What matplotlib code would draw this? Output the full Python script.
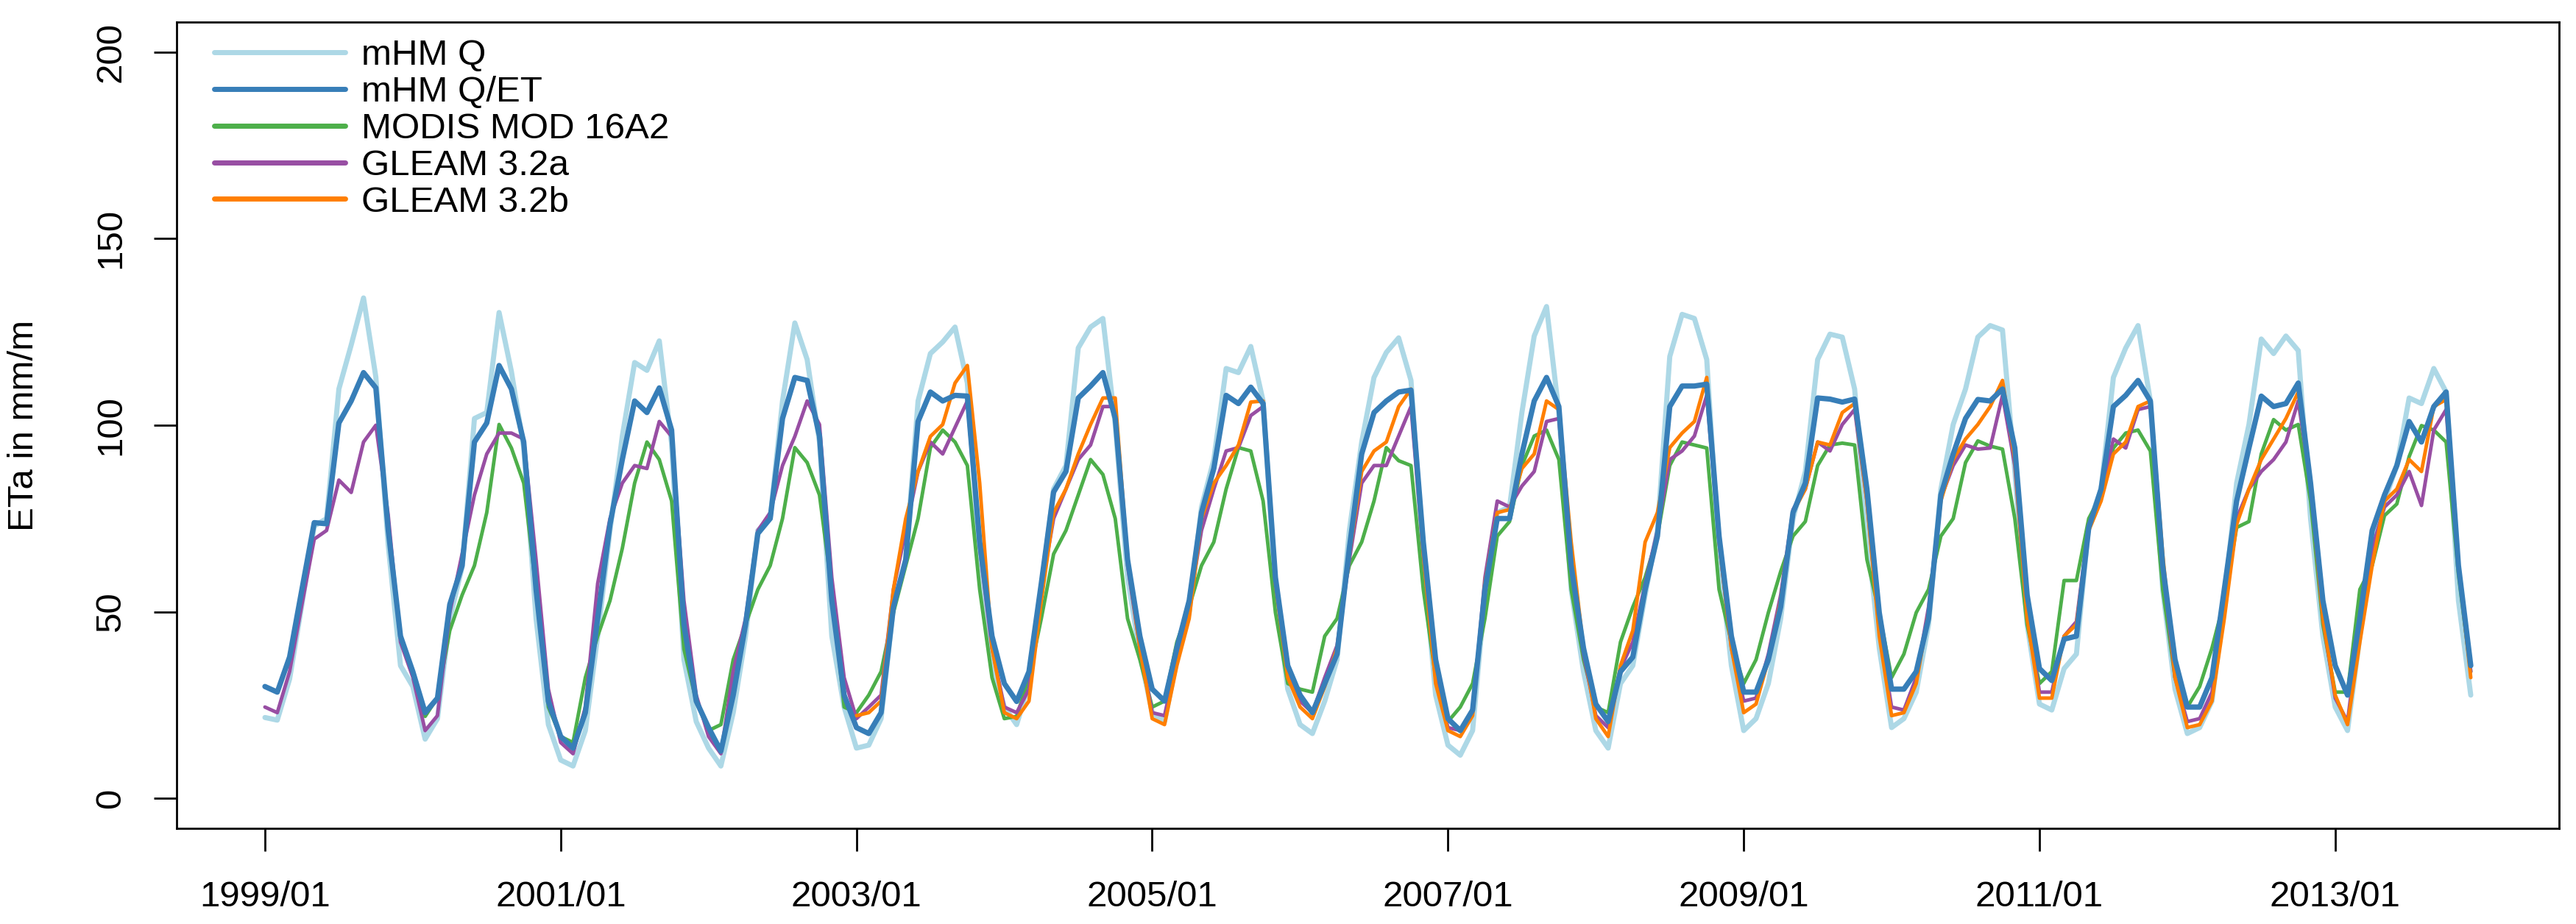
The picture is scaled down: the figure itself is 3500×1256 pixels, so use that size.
import numpy as np
import pandas as pd
import matplotlib
matplotlib.use("Agg")
import matplotlib.pyplot as plt

# Monthly ETa in mm/month
start_all = "1999-01"
start_modis = "2000-01"
start_gleam_b = "2003-01"
n_months = 180

mhm_q = [
    21.7, 21.0, 32.0, 52.0, 73.0, 75.0, 109.7, 121.5, 134.1, 112.9, 68.0, 35.6,
    30.0, 15.9, 21.4, 48.2, 62.0, 101.8, 103.4, 130.2, 114.4, 94.0, 48.2, 19.8,
    10.3, 8.7, 18.2, 43.5, 71.8, 97.1, 116.8, 114.7, 122.6, 95.0, 37.2, 20.6,
    13.5, 8.7, 23.0, 43.5, 71.8, 75.0, 106.5, 127.4, 117.6, 95.5, 43.5, 24.5,
    13.5, 14.3, 21.4, 51.3, 64.0, 106.5, 119.2, 122.3, 126.3, 111.3, 64.0, 35.6,
    24.5, 19.8, 30.8, 56.0, 82.9, 89.2, 120.7, 126.3, 128.6, 100.2, 59.2, 38.7,
    23.0, 20.6, 37.2, 49.8, 78.1, 90.8, 115.2, 114.1, 121.1, 106.5, 56.0, 29.3,
    19.8, 17.4, 26.1, 37.2, 71.8, 95.5, 112.8, 119.5, 123.4, 112.0, 64.0, 27.7,
    14.3, 11.6, 18.2, 54.5, 76.6, 78.1, 103.4, 123.9, 131.8, 103.4, 56.0, 34.0,
    18.2, 13.5, 30.8, 35.6, 54.5, 71.8, 118.4, 129.7, 128.6, 117.6, 65.5, 35.6,
    18.2, 21.4, 30.8, 48.2, 75.0, 87.6, 117.6, 124.4, 123.6, 109.7, 71.8, 40.3,
    19.0, 21.4, 28.5, 46.6, 82.9, 100.2, 109.7, 123.6, 126.7, 125.5, 87.6, 46.6,
    25.3, 23.7, 34.8, 38.7, 73.4, 82.9, 112.8, 120.7, 126.7, 106.5, 56.0, 29.3,
    17.4, 19.0, 26.1, 53.0, 84.5, 100.2, 123.1, 119.2, 123.9, 120.0, 75.0, 43.5,
    24.5, 18.2, 43.5, 68.7, 79.7, 89.2, 107.3, 105.8, 115.2, 108.9, 53.0, 27.7,
]

mhm_qet = [
    30.0, 28.5, 37.9, 56.0, 73.9, 73.6, 100.6, 106.5, 114.1, 110.0, 72.0, 43.5,
    34.0, 23.0, 26.9, 52.0, 62.4, 95.5, 100.6, 116.0, 109.7, 95.5, 56.0, 26.0,
    16.6, 13.5, 23.0, 48.2, 73.4, 90.8, 106.5, 103.4, 110.0, 98.7, 46.6, 26.1,
    19.0, 12.7, 27.7, 46.6, 71.0, 75.0, 101.8, 112.8, 112.0, 97.1, 53.0, 27.7,
    19.0, 17.4, 23.0, 51.3, 64.0, 101.0, 108.9, 106.5, 108.0, 107.8, 68.7, 43.5,
    30.8, 26.0, 34.0, 57.6, 82.1, 87.6, 107.3, 110.5, 114.1, 101.8, 64.0, 43.5,
    29.3, 26.1, 40.3, 53.0, 76.6, 88.4, 108.0, 105.8, 110.2, 105.8, 59.2, 35.6,
    27.7, 23.0, 30.8, 38.7, 67.1, 92.3, 103.4, 106.5, 108.9, 109.4, 68.7, 37.2,
    21.4, 18.2, 23.7, 56.0, 75.0, 75.0, 92.3, 106.5, 112.8, 105.0, 62.4, 40.3,
    25.3, 20.6, 34.0, 37.9, 56.0, 70.3, 105.0, 110.5, 110.5, 111.0, 70.3, 43.5,
    28.5, 28.5, 37.2, 51.3, 76.6, 84.5, 107.3, 107.0, 106.2, 107.0, 82.9, 49.8,
    29.3, 29.3, 34.0, 48.2, 81.3, 92.3, 101.8, 106.9, 106.5, 109.7, 93.9, 54.5,
    34.8, 31.6, 42.7, 43.5, 72.6, 82.9, 105.0, 108.0, 112.0, 106.5, 62.4, 37.2,
    24.5, 24.5, 32.4, 56.0, 79.7, 93.9, 107.8, 105.0, 105.8, 111.3, 84.5, 53.0,
    35.6, 27.7, 48.2, 71.8, 81.3, 89.2, 101.0, 95.5, 105.0, 108.9, 62.4, 35.6,
]

modis = [
    33.0, 22.0, 27.0, 45.0, 54.5, 62.4, 76.6, 100.2, 93.9, 84.5, 56.0, 24.5,
    16.6, 15.0, 32.4, 43.5, 53.0, 67.0, 84.5, 95.5, 90.8, 79.7, 40.0, 26.0,
    18.2, 19.8, 37.2, 46.6, 56.0, 62.4, 75.0, 94.0, 90.0, 81.3, 56.0, 24.5,
    23.0, 27.7, 34.0, 49.8, 62.4, 75.0, 94.0, 98.7, 95.5, 89.2, 56.0, 32.4,
    21.4, 22.0, 32.4, 48.2, 65.5, 71.8, 81.3, 90.8, 86.8, 75.0, 48.2, 37.2,
    24.5, 26.1, 41.9, 51.3, 62.4, 68.7, 82.9, 94.0, 93.1, 79.7, 49.8, 30.8,
    29.3, 28.5, 43.5, 48.2, 62.4, 68.7, 79.7, 94.0, 90.5, 89.2, 56.0, 32.4,
    20.6, 24.5, 30.8, 48.2, 70.3, 74.2, 89.2, 97.1, 98.7, 90.8, 56.0, 37.2,
    24.5, 23.0, 41.9, 51.3, 59.2, 70.3, 89.2, 95.5, 94.7, 93.9, 56.0, 41.9,
    30.8, 37.2, 49.8, 60.8, 70.3, 74.2, 89.2, 94.7, 95.2, 94.7, 64.0, 49.8,
    32.4, 38.7, 49.8, 56.0, 70.3, 75.0, 90.0, 95.8, 94.4, 93.6, 75.0, 46.6,
    30.8, 34.0, 58.4, 58.4, 75.0, 81.3, 93.9, 97.9, 98.7, 93.1, 56.0, 32.4,
    24.5, 30.0, 40.3, 53.0, 72.6, 74.2, 92.3, 101.5, 98.7, 100.2, 79.7, 46.6,
    28.5, 28.5, 56.0, 62.4, 75.8, 78.9, 91.6, 99.9, 98.7, 95.5, 60.0, 34.0,
]

gleam_a = [
    24.5, 23.0, 34.0, 52.0, 69.5, 71.8, 85.3, 82.0, 95.5, 100.0, 76.0, 41.9,
    32.5, 18.2, 22.2, 49.8, 65.5, 81.3, 92.3, 97.9, 97.9, 96.3, 64.0, 29.3,
    15.0, 12.0, 24.5, 57.6, 75.0, 84.5, 89.2, 88.4, 101.0, 97.0, 53.0, 27.7,
    16.6, 12.0, 34.0, 48.2, 71.8, 76.6, 89.2, 97.0, 106.5, 100.2, 59.2, 32.4,
    21.4, 24.5, 27.7, 56.0, 71.8, 87.6, 95.5, 92.3, 99.4, 106.5, 67.0, 40.3,
    24.5, 23.0, 29.3, 56.0, 75.0, 82.9, 90.8, 94.7, 105.0, 105.0, 62.4, 40.3,
    23.0, 22.2, 37.2, 51.3, 71.8, 82.9, 93.1, 94.0, 102.6, 105.0, 57.6, 34.0,
    26.1, 23.0, 32.4, 41.0, 64.0, 84.5, 89.2, 89.2, 97.1, 105.0, 65.5, 32.4,
    19.0, 18.2, 23.0, 59.2, 79.7, 78.1, 83.7, 87.6, 101.0, 101.8, 62.4, 38.7,
    22.2, 19.0, 34.8, 41.9, 57.6, 71.8, 90.8, 93.1, 97.1, 108.0, 68.7, 40.3,
    26.1, 26.9, 38.7, 54.5, 77.4, 82.9, 95.5, 93.1, 100.2, 104.2, 79.7, 45.0,
    24.5, 23.7, 32.4, 51.3, 80.5, 89.2, 94.7, 93.6, 93.9, 108.0, 89.2, 49.8,
    28.5, 28.5, 43.5, 47.4, 73.4, 81.3, 96.3, 93.9, 104.2, 105.0, 62.4, 32.4,
    20.6, 21.4, 28.5, 54.5, 75.0, 82.9, 87.6, 90.8, 95.5, 106.5, 84.5, 48.2,
    26.9, 20.6, 46.6, 67.0, 78.1, 81.3, 87.6, 78.5, 98.7, 104.2, 62.4, 34.0,
]

gleam_b = [
    22.2, 23.0, 26.1, 56.0, 75.0, 87.6, 97.0, 100.2, 111.3, 116.0, 84.5, 40.3,
    23.0, 21.4, 26.1, 53.0, 76.6, 82.9, 92.3, 100.2, 107.3, 107.3, 64.0, 40.3,
    21.4, 19.8, 35.6, 48.2, 75.0, 84.5, 89.2, 94.7, 106.2, 106.5, 57.6, 32.4,
    24.5, 21.4, 30.0, 40.3, 65.5, 87.6, 93.1, 95.5, 105.0, 109.7, 65.5, 30.8,
    18.2, 16.6, 22.2, 57.6, 76.6, 77.4, 88.4, 92.3, 106.5, 104.2, 68.7, 40.3,
    21.4, 16.6, 35.6, 45.0, 68.7, 76.6, 94.0, 97.9, 101.0, 112.8, 68.7, 40.3,
    23.0, 25.3, 37.2, 53.0, 76.6, 82.9, 95.5, 94.7, 103.4, 105.8, 79.7, 43.5,
    22.2, 23.0, 30.8, 49.8, 79.7, 90.8, 96.3, 100.2, 105.0, 112.0, 90.8, 48.2,
    26.9, 26.9, 43.5, 46.6, 71.8, 79.7, 92.3, 95.5, 105.0, 106.5, 65.5, 32.4,
    19.0, 19.8, 26.1, 48.2, 73.4, 82.9, 90.8, 96.3, 101.8, 108.9, 84.5, 48.2,
    27.7, 19.8, 41.9, 62.4, 79.7, 82.9, 90.8, 87.6, 105.0, 106.9, 62.4, 32.4,
]

labels = ["mHM Q", "mHM Q/ET", "MODIS MOD 16A2", "GLEAM 3.2a", "GLEAM 3.2b"]
colors = ["#ADD8E6", "#377EB8", "#4DAF4A", "#984EA3", "#FF7F00"]
y_ticks = [0, 50, 100, 150, 200]

# Month axis
months = pd.date_range(start_all, periods=n_months, freq="MS")
x_all = np.arange(n_months)
x_modis = x_all[months.get_loc(pd.Timestamp(start_modis)):][:len(modis)]
x_gleam_b = x_all[months.get_loc(pd.Timestamp(start_gleam_b)):][:len(gleam_b)]
tick_pos = [i for i, m in enumerate(months) if m.month == 1 and m.year % 2 == 1]
tick_lab = [months[i].strftime("%Y/%m") for i in tick_pos]

plt.rcParams["font.family"] = ["Liberation Sans", "DejaVu Sans"]

fig = plt.figure(figsize=(35, 12.56), dpi=100)
ax = fig.add_axes([0.0686, 0.1035, 0.9248, 0.8726])

line_kw = dict(solid_capstyle="round", solid_joinstyle="round")
series = [
    (x_all, mhm_q, 0, 5.0),
    (x_modis, modis, 2, 3.5),
    (x_all, gleam_a, 3, 3.5),
    (x_gleam_b, gleam_b, 4, 3.5),
    (x_all, mhm_qet, 1, 5.2),
]
handles = {}
for xs, ys, k, lw in series:
    h, = ax.plot(xs, ys, color=colors[k], lw=lw, label=labels[k], **line_kw)
    handles[k] = h

ax.set_xlim(-0.04 * (n_months - 1), (n_months - 1) * 1.04)
ax.set_ylim(-8, 208)

ax.set_xticks(tick_pos)
ax.set_xticklabels(tick_lab)
ax.set_yticks(y_ticks)
ax.set_yticklabels([str(v) for v in y_ticks], rotation=90, va="center")
ax.tick_params(axis="x", length=22, width=2, labelsize=35.5, pad=29)
ax.tick_params(axis="y", length=22, width=2, labelsize=35.5, pad=26)
for s in ax.spines.values():
    s.set_linewidth(2)

fig.text(33 / 3500, 0.5398, "ETa in mm/m", rotation=90, ha="center", va="center", fontsize=35.5)

leg = ax.legend([handles[k] for k in range(5)], labels, loc="upper left",
                bbox_to_anchor=(0.0158, 0.979), frameon=False, fontsize=35.5,
                handlelength=3.6, handletextpad=0.45, labelspacing=0.1,
                borderpad=0, borderaxespad=0)
for h in leg.get_lines():
    h.set_linewidth(5.0)
    h.set_solid_capstyle("round")

fig.savefig("out.png", dpi=100)
